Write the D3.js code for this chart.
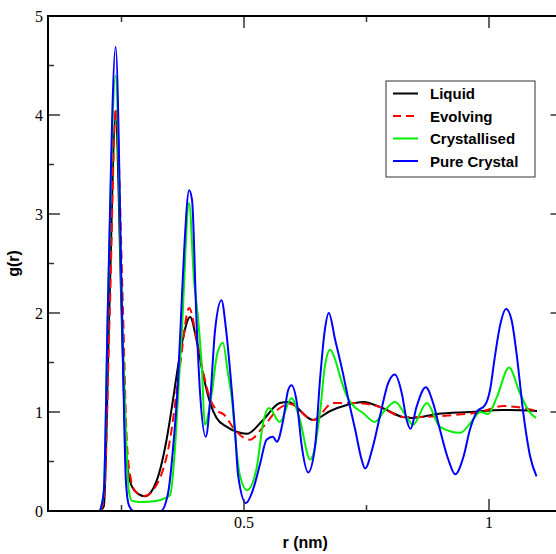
<!DOCTYPE html>
<meta charset="utf-8">
<style>
  body { margin: 0; background: #fff; }
  .tick-label { font-family: "Liberation Serif", "Times New Roman", serif; font-size: 16px; fill: #000; }
  .axis-title { font-family: "Liberation Sans", Arial, sans-serif; font-size: 16px; font-weight: bold; fill: #000; }
  .legend-text { font-family: "Liberation Sans", Arial, sans-serif; font-size: 15px; font-weight: bold; fill: #000; }
</style>
<svg class="chart"></svg>
<script src="https://d3js.org/d3.v7.min.js"></script>
<script>

  // g(r) curves, [r (nm), g]
  var liquid = [
    [0.206, 0], [0.214, 0.05], [0.225, 2.0], [0.2378, 3.98], [0.250, 2.03], [0.257, 0.82],
    [0.265, 0.35], [0.276, 0.21], [0.298, 0.15], [0.322, 0.31], [0.342, 0.72], [0.355, 1.12],
    [0.365, 1.45], [0.376, 1.76], [0.390, 1.96], [0.403, 1.73], [0.416, 1.39], [0.431, 1.09],
    [0.444, 0.94], [0.465, 0.85], [0.485, 0.80], [0.506, 0.78], [0.539, 0.92], [0.573, 1.09],
    [0.590, 1.10], [0.641, 0.92], [0.676, 1.01], [0.710, 1.07], [0.743, 1.10], [0.778, 1.05],
    [0.824, 0.95], [0.845, 0.94], [0.894, 0.98], [0.961, 1.00], [1.029, 1.02], [1.098, 1.01]
  ];

  var evolving = [
    [0.206, 0], [0.214, 0.1], [0.226, 2.0], [0.2385, 4.07], [0.253, 2.03], [0.260, 0.8],
    [0.267, 0.38], [0.278, 0.2], [0.296, 0.15], [0.320, 0.25], [0.349, 0.72], [0.369, 1.45],
    [0.388, 2.05], [0.403, 1.75], [0.416, 1.42], [0.431, 1.13], [0.444, 1.02], [0.460, 0.97],
    [0.478, 0.84], [0.512, 0.72], [0.539, 0.85], [0.573, 1.04], [0.594, 1.08], [0.641, 0.92],
    [0.682, 1.09], [0.731, 1.09], [0.778, 1.05], [0.824, 0.95], [0.859, 0.95], [0.927, 0.97],
    [0.982, 1.00], [1.029, 1.06], [1.057, 1.05], [1.098, 1.01]
  ];

  var crystallised = [
    [0.206, 0], [0.214, 0.2], [0.222, 2.0], [0.238, 4.4], [0.251, 2.0], [0.259, 0.8],
    [0.265, 0.2], [0.272, 0.1], [0.290, 0.09], [0.320, 0.1], [0.339, 0.13], [0.349, 0.16],
    [0.359, 0.62], [0.365, 1.12], [0.373, 1.80], [0.388, 3.11], [0.398, 2.33], [0.406, 1.96],
    [0.414, 1.45], [0.420, 0.87], [0.435, 1.22], [0.445, 1.58], [0.457, 1.70], [0.467, 1.40],
    [0.476, 1.10], [0.482, 0.75], [0.492, 0.35], [0.506, 0.21], [0.526, 0.44], [0.539, 0.89],
    [0.551, 1.04], [0.573, 0.90], [0.597, 1.14], [0.614, 0.92], [0.635, 0.52], [0.655, 0.99],
    [0.665, 1.46], [0.676, 1.63], [0.686, 1.53], [0.696, 1.36], [0.710, 1.16], [0.722, 1.07],
    [0.743, 0.99], [0.767, 0.90], [0.788, 1.02], [0.808, 1.10], [0.832, 0.95], [0.845, 0.87],
    [0.873, 1.09], [0.900, 0.85], [0.941, 0.79], [0.967, 0.92], [0.982, 1.00], [0.998, 0.98],
    [1.016, 1.15], [1.041, 1.45], [1.063, 1.19], [1.084, 0.99], [1.096, 0.94]
  ];

  var pureCrystal = [
    [0.206, 0], [0.214, 0.2], [0.222, 2.03], [0.238, 4.69], [0.251, 2.03], [0.259, 0.3],
    [0.265, 0.06], [0.275, 0], [0.330, 0], [0.345, 0.18], [0.355, 0.62], [0.365, 1.29],
    [0.373, 2.13], [0.378, 2.64], [0.388, 3.24], [0.394, 3.14], [0.403, 1.93], [0.410, 1.22],
    [0.422, 0.75], [0.431, 1.12], [0.441, 1.83], [0.454, 2.13], [0.463, 1.85], [0.471, 1.45],
    [0.482, 0.79], [0.488, 0.36], [0.504, 0.08], [0.518, 0.21], [0.533, 0.48], [0.546, 0.72],
    [0.559, 0.75], [0.567, 0.70], [0.580, 0.92], [0.590, 1.22], [0.597, 1.27], [0.608, 1.09],
    [0.618, 0.65], [0.631, 0.39], [0.645, 0.65], [0.655, 1.32], [0.665, 1.83], [0.673, 2.00],
    [0.686, 1.73], [0.702, 1.39], [0.712, 1.15], [0.727, 0.82], [0.740, 0.52], [0.747, 0.43],
    [0.763, 0.65], [0.778, 0.97], [0.794, 1.29], [0.808, 1.38], [0.822, 1.19], [0.832, 0.92],
    [0.840, 0.83], [0.852, 1.05], [0.871, 1.25], [0.886, 1.09], [0.900, 0.82], [0.917, 0.52],
    [0.931, 0.37], [0.948, 0.55], [0.961, 0.82], [0.975, 1.00], [0.992, 1.07], [1.002, 1.22],
    [1.012, 1.56], [1.022, 1.86], [1.035, 2.04], [1.046, 1.93], [1.057, 1.56], [1.070, 0.99],
    [1.084, 0.55], [1.097, 0.35]
  ];

  var seriesNames  = ["Liquid", "Evolving", "Crystallised", "Pure Crystal"];
  var seriesColors = ["#000000", "#ff0000", "#00ee00", "#0000ff"];
  var seriesData   = [liquid, evolving, crystallised, pureCrystal];

  var xMajorTicks = [0.5, 1];
  var xMinorTicks = [0.25, 0.75];
  var yMajorTicks = [0, 1, 2, 3, 4, 5];
  var yMinorTicks = [0.5, 1.5, 2.5, 3.5, 4.5];

  var width  = 556;
  var height = 554;

  var plotLeft = 48, plotRight = 562.5, plotTop = 16, plotBottom = 511;

  var chart = d3.select(".chart")
      .attr("width", width)
      .attr("height", height);

  var x = d3.scaleLinear().domain([0.1, 1.15]).range([plotLeft, plotRight]);
  var y = d3.scaleLinear().domain([0, 5]).range([plotBottom, plotTop]);

  // curves
  var line = d3.line()
      .x(function(d) { return x(d[0]); })
      .y(function(d) { return y(d[1]); })
      .curve(d3.curveMonotoneX);

  var plot = chart.append("g");

  seriesData.forEach(function(data, i) {
    plot.append("path")
        .datum(data)
        .attr("fill", "none")
        .attr("stroke", seriesColors[i])
        .attr("stroke-width", 2)
        .attr("stroke-linejoin", "round")
        .attr("stroke-dasharray", i === 1 ? "9,5" : null)
        .attr("d", line);
  });

  // ticks, mirrored on all four sides, pointing inward
  var ticks = chart.append("g")
      .attr("stroke", "#333")
      .attr("stroke-width", 1.5);

  function tick(x1, y1, x2, y2) {
    ticks.append("line")
        .attr("x1", x1).attr("y1", y1)
        .attr("x2", x2).attr("y2", y2);
  }

  xMajorTicks.forEach(function(t) {
    tick(x(t), plotBottom, x(t), plotBottom - 12);
    tick(x(t), plotTop, x(t), plotTop + 12);
  });
  xMinorTicks.forEach(function(t) {
    tick(x(t), plotBottom, x(t), plotBottom - 6);
    tick(x(t), plotTop, x(t), plotTop + 6);
  });
  yMajorTicks.forEach(function(t) {
    tick(plotLeft, y(t), plotLeft + 12, y(t));
    tick(plotRight, y(t), plotRight - 12, y(t));
  });
  yMinorTicks.forEach(function(t) {
    tick(plotLeft, y(t), plotLeft + 6, y(t));
    tick(plotRight, y(t), plotRight - 6, y(t));
  });

  // frame
  chart.append("rect")
      .attr("x", plotLeft)
      .attr("y", plotTop)
      .attr("width", plotRight - plotLeft)
      .attr("height", plotBottom - plotTop)
      .attr("fill", "none")
      .attr("stroke", "#000")
      .attr("stroke-width", 2);

  // tick labels
  chart.append("g").selectAll("text")
    .data(xMajorTicks)
    .enter().append("text")
      .attr("class", "tick-label")
      .attr("x", function(d) { return x(d); })
      .attr("y", 528)
      .attr("text-anchor", "middle")
      .text(function(d) { return d3.format("")(d); });

  chart.append("g").selectAll("text")
    .data(yMajorTicks)
    .enter().append("text")
      .attr("class", "tick-label")
      .attr("x", 43)
      .attr("y", function(d) { return y(d) + 5.5; })
      .attr("text-anchor", "end")
      .text(function(d) { return d; });

  // axis titles
  chart.append("text")
      .attr("class", "axis-title")
      .attr("x", (plotLeft + plotRight) / 2)
      .attr("y", 548)
      .attr("text-anchor", "middle")
      .text("r (nm)");

  chart.append("text")
      .attr("class", "axis-title")
      .attr("transform", "translate(19," + ((plotTop + plotBottom) / 2) + ") rotate(-90)")
      .attr("text-anchor", "middle")
      .text("g(r)");

  // legend
  var legend = chart.append("g").attr("transform", "translate(386,81)");

  legend.append("rect")
      .attr("width", 149)
      .attr("height", 96)
      .attr("fill", "#fff")
      .attr("stroke", "#333")
      .attr("stroke-width", 1);

  var rows = legend.selectAll(".row")
    .data(seriesNames)
    .enter().append("g")
      .attr("class", "row")
      .attr("transform", function(d, i) { return "translate(0," + (12.5 + i * 22.5) + ")"; });

  rows.append("line")
      .attr("x1", 7).attr("x2", 32)
      .attr("stroke", function(d, i) { return seriesColors[i]; })
      .attr("stroke-width", 2)
      .attr("stroke-dasharray", function(d, i) { return i === 1 ? "8,5" : null; });

  rows.append("text")
      .attr("class", "legend-text")
      .attr("x", 44)
      .attr("y", 5.5)
      .text(function(d) { return d; });

</script>
